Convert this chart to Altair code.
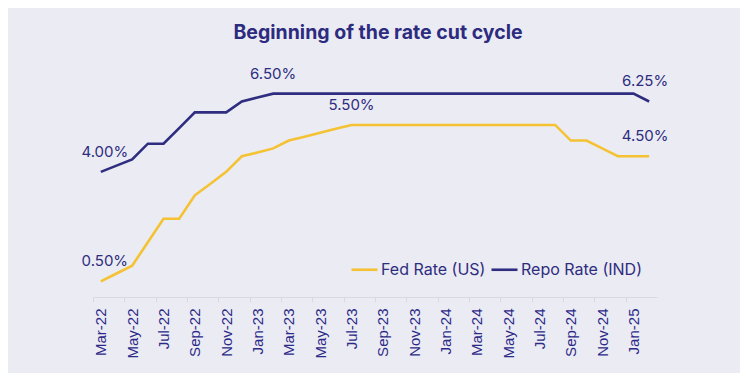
import altair as alt
import pandas as pd

months = ["Mar-22", "Apr-22", "May-22", "Jun-22", "Jul-22", "Aug-22", "Sep-22", "Oct-22",
          "Nov-22", "Dec-22", "Jan-23", "Feb-23", "Mar-23", "Apr-23", "May-23", "Jun-23",
          "Jul-23", "Aug-23", "Sep-23", "Oct-23", "Nov-23", "Dec-23", "Jan-24", "Feb-24",
          "Mar-24", "Apr-24", "May-24", "Jun-24", "Jul-24", "Aug-24", "Sep-24", "Oct-24",
          "Nov-24", "Dec-24", "Jan-25", "Feb-25"]

fed_rate = [0.50, 0.75, 1.00, 1.75, 2.50, 2.50, 3.25, 3.62, 4.00, 4.50, 4.62, 4.75,
            5.00, 5.12, 5.25, 5.38, 5.50, 5.50, 5.50, 5.50, 5.50, 5.50, 5.50, 5.50,
            5.50, 5.50, 5.50, 5.50, 5.50, 5.50, 5.00, 5.00, 4.75, 4.50, 4.50, 4.50]

repo_rate = [4.00, 4.20, 4.40, 4.90, 4.90, 5.40, 5.90, 5.90, 5.90, 6.25, 6.38, 6.50,
             6.50, 6.50, 6.50, 6.50, 6.50, 6.50, 6.50, 6.50, 6.50, 6.50, 6.50, 6.50,
             6.50, 6.50, 6.50, 6.50, 6.50, 6.50, 6.50, 6.50, 6.50, 6.50, 6.50, 6.25]

series_names = ["Fed Rate (US)", "Repo Rate (IND)"]
tick_months = months[::2]

label_months = ["Mar-22", "Mar-22", "Feb-23", "Jul-23", "Feb-25", "Feb-25"]
label_values = [4.00, 0.50, 6.50, 5.50, 6.25, 4.50]
label_texts = ["4.00%", "0.50%", "6.50%", "5.50%", "6.25%", "4.50%"]

NAVY = "#2e2d80"
YELLOW = "#f4c232"
BG = "#ebebf3"

df = pd.concat([
    pd.DataFrame({"month": months, "rate": fed_rate, "series": series_names[0]}),
    pd.DataFrame({"month": months, "rate": repo_rate, "series": series_names[1]}),
])
lab = pd.DataFrame({"month": label_months, "rate": label_values, "text": label_texts})

W = 564
H = 219
step = W / len(months)

x_enc = alt.X("month:N", sort=months,
              scale=alt.Scale(type="point", domain=months, padding=0.5),
              axis=alt.Axis(values=tick_months, title=None, labelAngle=270,
                            labelAlign="right", labelBaseline="middle",
                            labelFont="Liberation Sans", labelFontSize=15,
                            labelColor="#2b2a88", labelPadding=6,
                            tickOffset=-step / 2, labelOffset=step / 2,
                            domainColor="#d9d9e3", tickColor="#d9d9e3", tickSize=5,
                            grid=False))
y_scale = alt.Scale(domain=[0, 7], nice=False)

lines = alt.Chart(df).mark_line(strokeWidth=2.6).encode(
    x=x_enc,
    y=alt.Y("rate:Q", scale=y_scale, axis=None),
    color=alt.Color("series:N", scale=alt.Scale(domain=series_names, range=[YELLOW, NAVY]),
                    legend=alt.Legend(title=None, orient="none", direction="horizontal",
                                      legendX=257, legendY=177, padding=0,
                                      symbolType="stroke", symbolSize=676,
                                      symbolStrokeWidth=2.6, labelFont="Inter",
                                      labelFontSize=16, labelColor=NAVY,
                                      labelOffset=2, columnPadding=0)),
)

def text_layer(sel, dx, dy):
    return alt.Chart(lab).transform_filter(sel).mark_text(
        font="Inter", fontSize=15, color=NAVY, align="center", baseline="middle",
        dx=dx, dy=dy
    ).encode(
        x=alt.X("month:N", sort=months, scale=alt.Scale(type="point", domain=months, padding=0.5)),
        y=alt.Y("rate:Q", scale=y_scale),
        text="text:N",
    )

t_start = text_layer(alt.datum.month == "Mar-22", 4, -20)
t_mid = text_layer((alt.datum.month != "Mar-22") & (alt.datum.month != "Feb-25"), 0, -20)
t_end = text_layer(alt.datum.month == "Feb-25", -4, -20)

chart = alt.layer(lines, t_start, t_mid, t_end).properties(
    width=W, height=H,
    autosize=alt.AutoSizeParams(type="none"),
    padding={"left": 85, "top": 70, "right": 83, "bottom": 76},
    background=BG,
    title=alt.TitleParams("Beginning of the rate cut cycle", font="Inter", fontSize=19.5,
                          fontWeight="bold", color="#2d2b80", anchor="middle",
                          offset=23, dx=3),
).configure_view(stroke=None)

chart.save("out.html", embed_options={"renderer": "svg", "actions": False})
